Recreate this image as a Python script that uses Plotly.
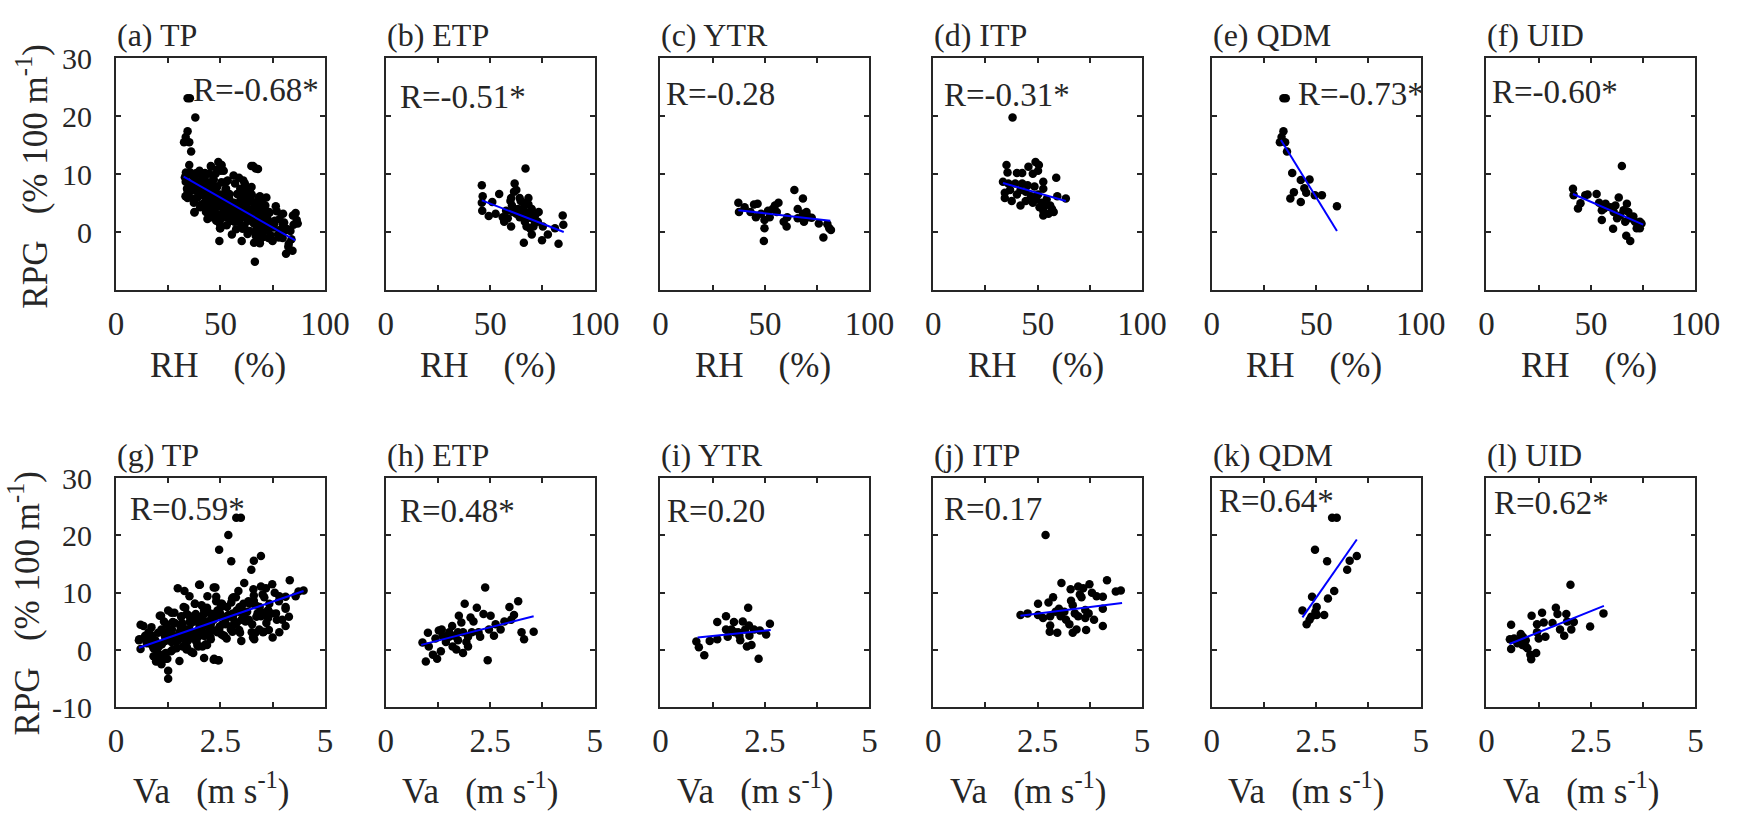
import plotly.graph_objects as go

W, H = 1743, 825
FONT = "Liberation Serif"
INK = "#262626"

# ── data: RH vs RPG (top row) ────────────────────────────────────────────────
etp_rh = [46.0, 46.4, 46.0, 46.2, 49.3, 51.0, 54.3, 52.6, 56.0, 56.7,
          57.6, 60.0, 60.4, 60.0, 61.7, 62.5, 64.1, 64.6, 66.9, 65.8,
          66.6, 68.3, 69.0, 69.9, 69.9, 66.1, 70.7, 73.2, 72.8, 75.2,
          74.8, 77.6, 81.0, 82.7, 84.7, 85.0, 63.3, 65.0, 66.6, 67.4,
          69.0, 71.5, 64.1, 62.5, 58.4, 60.9, 68.3, 69.9, 71.5, 65.8,
          59.7, 61.4]
etp_rh_rpg = [8.1, 6.2, 5.1, 3.7, 2.8, 5.2, 6.6, 3.2, 2.6, 1.8,
              3.7, 5.9, 4.6, 1.0, 8.4, 7.3, 5.9, 5.4, 11.0, 4.0,
              2.9, 4.8, 3.5, 2.4, -0.4, -1.8, 1.0, 3.5, 1.8, 1.0,
              -1.4, -0.4, 0.7, -2.0, 2.9, 1.3, 4.0, 3.2, 1.8, 1.0,
              0.7, 2.9, 2.6, 3.2, 2.4, 3.5, 5.9, 4.0, 1.8, 5.1,
              5.4, 7.0]

ytr_rh = [37.3, 37.6, 40.3, 44.8, 46.5, 45.7, 48.2, 49.8, 49.8, 49.5,
          52.3, 53.7, 54.8, 56.5, 55.7, 59.0, 60.4, 60.7, 64.1, 65.7,
          68.2, 68.2, 68.7, 69.9, 72.4, 75.8, 78.0, 79.9, 80.8, 81.6,
          43.1, 51.5, 65.7, 71.0]
ytr_rh_rpg = [5.1, 3.5, 4.3, 4.8, 4.9, 2.6, 3.2, 2.1, 0.7, -1.5,
              2.6, 4.0, 4.6, 5.1, 3.5, 1.8, 1.0, 2.6, 7.3, 4.0,
              5.8, 3.2, 1.8, 3.5, 2.5, 1.5, -0.9, 1.4, 0.7, 0.4,
              3.5, 3.7, 2.4, 2.6]

itp_rh = [38.0, 35.1, 35.6, 40.1, 42.6, 45.6, 49.0, 50.6, 50.2, 47.7,
          52.7, 52.7, 58.9, 33.4, 36.0, 39.3, 42.6, 45.2, 48.5, 34.3,
          34.3, 37.6, 41.8, 40.1, 44.3, 46.8, 49.3, 51.8, 52.7, 52.7,
          55.2, 56.9, 57.7, 56.0, 54.3, 59.4, 63.5, 44.3, 47.7, 50.2,
          36.8, 41.8, 53.5, 50.9]
itp_rh_rpg = [19.8, 11.6, 10.3, 10.2, 10.2, 11.3, 12.1, 11.6, 10.6, 10.1,
              8.7, 7.5, 9.4, 8.7, 8.4, 8.4, 8.4, 8.1, 7.9, 6.8,
              5.9, 5.4, 4.6, 6.5, 7.0, 6.2, 5.7, 5.1, 3.7, 2.9,
              3.2, 4.0, 3.5, 4.6, 5.7, 6.2, 5.8, 5.4, 5.1, 6.5,
              7.3, 7.3, 4.6, 4.3]

qdm_rh = [34.3, 35.4, 34.3, 33.4, 32.6, 35.1, 36.0, 38.5, 42.6, 46.8,
          44.3, 45.2, 39.3, 37.6, 42.6, 49.3, 52.7, 59.9]
qdm_rh_rpg = [23.1, 23.1, 17.4, 16.4, 15.5, 15.5, 13.9, 10.2, 9.0, 9.1,
              7.6, 6.8, 6.9, 5.8, 5.2, 6.4, 6.4, 4.5]

uid_rh = [41.4, 41.7, 43.8, 45.0, 47.3, 48.4, 52.7, 53.9, 55.2, 55.2,
          57.0, 56.3, 61.7, 63.3, 64.8, 62.5, 60.9, 60.6, 65.6, 67.2,
          67.9, 68.8, 70.3, 71.1, 71.9, 73.4, 74.2, 73.4, 66.9, 68.8,
          64.0, 59.4, 66.4]
uid_rh_rpg = [7.5, 6.4, 4.1, 5.0, 6.4, 6.5, 6.6, 5.1, 3.8, 2.1,
              4.9, 4.1, 4.6, 6.0, 11.4, 2.4, 3.5, 0.6, 3.8, 4.9,
              3.5, 2.4, 2.7, 1.8, 0.7, 1.8, 1.5, 0.7, -0.6, -1.5,
              2.9, 4.3, 1.8]

# TP stations outside the five sub-regions
other_rh = [33.5, 33.0, 34.0, 33.3, 35.0, 36.5, 37.6, 38.5, 39.0, 40.0,
            40.5, 41.0, 42.0, 43.0, 43.8, 44.5, 45.4, 45.5, 46.5, 47.5,
            48.0, 48.5, 49.5, 50.0, 50.5, 51.6, 52.0, 53.0, 53.5, 54.5,
            55.5, 56.3, 57.0, 57.5, 58.0, 59.0, 60.2, 61.0, 61.5, 62.0,
            63.0, 64.0, 64.9, 65.7, 66.5, 67.0, 68.0, 68.9, 68.9, 70.0,
            70.5, 71.5, 72.5, 73.6, 74.0, 75.0, 76.0, 77.0, 78.3, 79.0,
            79.8, 80.5, 81.4, 82.5, 83.5, 84.0, 86.0, 86.5, 87.0, 84.5,
            36.0, 38.0, 41.5, 43.5, 45.0, 47.0, 48.0, 49.0, 51.0, 52.5,
            54.0, 55.0, 56.0, 58.5, 59.5, 60.5, 62.5, 63.5, 65.0, 66.0,
            67.5, 69.5, 71.0, 72.0, 73.0, 75.5, 76.5, 78.0, 80.0, 82.0]
other_rh_rpg = [10.3, 9.5, 7.5, 6.2, 6.8, 9.8, 3.4, 7.8, 6.0, 10.6,
                8.9, 4.8, 9.6, 6.2, 2.3, 10.1, 11.4, 4.2, 9.0, 3.1,
                7.6, 10.8, 1.6, 0.7, 8.6, 10.6, 5.9, 1.2, 8.9, 3.9,
                -0.4, 9.8, 8.4, 0.5, 6.6, 2.2, -1.5, 8.9, 1.1, 6.0,
                -0.3, 0.2, 7.8, 11.4, -5.1, 0.2, 10.9, 6.2, -1.9, 5.5,
                -0.8, 4.6, 0.3, 3.4, -0.5, -1.5, 2.0, 3.6, 2.3, 0.5,
                -1.0, 1.7, -3.7, -2.5, 0.2, -1.2, 3.3, 2.1, 1.5, -3.2,
                8.0, 9.0, 7.0, 8.3, 6.8, 5.5, 2.0, 4.5, 3.0, 7.4,
                6.0, 2.0, 4.5, 5.0, 7.5, 3.0, 4.8, 2.0, 6.5, 1.5,
                5.0, 3.0, 1.5, 6.0, -1.0, 0.8, 4.5, -0.5, 3.2, 0.5]

# ── data: Va vs RPG (bottom row) ─────────────────────────────────────────────
etp_va = [0.88, 0.96, 1.01, 1.03, 1.13, 1.23, 1.27, 1.34, 1.36, 1.32,
          1.44, 1.52, 1.59, 1.64, 1.73, 1.69, 1.75, 1.81, 1.85, 1.85,
          1.89, 1.93, 1.97, 2.03, 2.10, 2.18, 2.22, 2.26, 2.34, 2.38,
          2.44, 2.51, 2.47, 2.59, 2.63, 2.75, 2.84, 2.96, 3.00, 3.07,
          3.17, 3.25, 3.31, 3.54, 1.60, 1.73, 1.52, 1.19, 1.97, 2.06]
etp_va_rpg = [1.3, -2.0, 3.0, 0.6, -0.8, -1.5, 3.4, 3.6, 2.5, -0.2,
              1.4, 3.1, 4.2, 2.5, 1.7, 0.1, 6.0, 4.8, 3.1, -0.5,
              8.1, 1.4, 0.6, 5.7, 5.0, 7.4, 3.1, 2.3, 6.3, 10.9,
              -1.8, 6.0, 3.6, 2.5, 4.5, 3.6, 5.0, 7.5, 5.3, 6.1,
              8.5, 3.1, 1.9, 3.2, 0.6, 3.1, 2.3, 2.0, 2.3, 3.1]

ytr_va = [0.86, 0.92, 1.05, 1.18, 1.36, 1.36, 1.57, 1.57, 1.61, 1.76,
          1.78, 1.89, 1.91, 1.97, 2.03, 2.10, 2.12, 2.13, 2.07, 2.18,
          2.24, 2.35, 2.38, 2.53, 2.62, 1.70, 1.86]
ytr_va_rpg = [1.5, 0.5, -0.9, 1.6, 1.9, 4.9, 5.9, 3.6, 2.3, 4.9,
              3.1, 2.5, 1.7, 5.0, 3.6, 7.4, 4.3, 2.5, 0.6, 0.9,
              3.6, -1.5, 3.4, 2.7, 4.6, 3.6, 3.1]

itp_va = [2.69, 2.09, 2.26, 2.51, 2.51, 2.63, 2.76, 2.87, 3.07, 2.80,
          2.80, 2.79, 2.97, 3.01, 3.14, 3.29, 3.30, 3.34, 3.26, 3.34,
          3.43, 3.47, 3.51, 3.55, 3.59, 3.64, 3.66, 3.74, 3.80, 3.85,
          3.91, 4.06, 4.06, 4.06, 4.16, 4.37, 4.49, 3.05, 3.18, 3.47,
          3.64, 2.93, 3.39, 3.72]
itp_va_rpg = [20.1, 6.1, 6.4, 8.1, 6.1, 5.6, 8.3, 9.2, 11.7, 5.9,
              4.3, 3.2, 3.0, 7.2, 6.7, 10.6, 8.6, 7.8, 4.5, 3.0,
              3.6, 11.1, 9.7, 9.2, 10.8, 7.0, 3.5, 11.5, 10.0, 5.3,
              9.4, 9.3, 7.2, 4.2, 12.2, 10.2, 10.4, 5.9, 5.3, 5.9,
              5.6, 6.7, 6.4, 6.4]

qdm_va = [2.88, 2.99, 2.47, 2.76, 3.47, 3.30, 3.24, 2.93, 2.78, 2.40,
          2.17, 2.51, 2.48, 2.51, 2.69, 2.38, 2.34, 2.27]
qdm_va_rpg = [23.1, 23.1, 17.5, 15.5, 16.4, 15.6, 14.0, 10.3, 9.0, 9.3,
              6.9, 7.5, 6.7, 6.1, 6.1, 5.8, 5.3, 4.5]

uid_va = [0.59, 0.56, 0.59, 0.66, 0.74, 0.82, 0.87, 0.94, 0.94, 0.98,
          1.05, 1.08, 1.07, 1.19, 1.21, 1.25, 1.21, 1.33, 1.37, 1.41,
          1.58, 1.66, 1.70, 1.76, 1.86, 1.91, 1.93, 2.01, 2.03, 2.09,
          2.48, 2.80, 0.78, 0.86]
uid_va_rpg = [4.4, 1.9, 0.2, 2.0, 1.2, 2.8, 2.3, 1.7, 0.6, 0.3,
              -0.8, 6.0, -1.6, -0.5, 4.5, 2.0, 3.1, 6.5, 4.8, 2.3,
              4.7, 7.4, 6.3, 3.6, 2.5, 6.3, 5.0, 11.4, 3.6, 4.9,
              4.1, 6.4, 1.7, 0.9]

other_va = [0.66, 0.55, 0.78, 0.90, 1.05, 1.25, 0.90, 0.98, 1.09, 1.25,
            1.25, 1.52, 1.48, 1.64, 1.76, 1.89, 1.99, 2.11, 2.34, 2.46,
            2.19, 2.34, 2.54, 2.81, 3.00, 3.28, 3.75, 3.52, 3.91, 4.06,
            3.98, 4.30, 3.83, 3.60, 3.36, 3.20, 2.89, 2.74, 2.58, 2.43,
            2.27, 2.11, 1.95, 1.80, 1.68, 1.56, 1.45, 1.33, 1.17, 1.09,
            1.41, 1.56, 1.80, 1.95, 2.11, 2.27, 2.43, 2.66, 2.89, 3.05,
            3.44, 3.67, 4.14,
            0.70, 0.85, 0.95, 1.00, 1.10, 1.15, 1.20, 1.30, 1.35, 1.40,
            1.50, 1.55, 1.62, 1.70, 1.75, 1.85, 1.92, 2.00, 2.05, 2.15,
            2.20, 2.30, 2.40, 2.55, 2.65, 2.95, 3.10, 3.30, 3.55, 3.90]
other_va_rpg = [4.2, 1.7, 3.1, 0.3, 6.0, 6.9, -1.1, -1.9, -2.5, -3.6,
                -5.0, -1.9, 10.8, 10.3, 9.4, 8.1, 11.4, -1.4, -1.7, -1.8,
                9.4, 10.9, 8.1, 9.2, 1.6, 2.2, 2.2, 3.1, 3.1, 7.5,
                5.3, 9.4, 6.4, 4.7, 5.8, 8.1, 4.7, 5.8, 2.5, 3.1,
                1.9, 2.5, 0.8, -0.3, 1.4, 2.5, 0.3, 1.4, 2.5, 3.6,
                4.7, 5.8, 4.7, 5.8, 6.9, 5.3, 6.9, 7.5, 6.9, 8.1,
                7.5, 8.1, 5.8,
                2.5, 4.0, 1.5, -0.5, 1.0, 5.0, -1.5, 3.0, 0.0, 6.5,
                1.8, 4.0, 7.5, 0.5, 3.0, 5.5, 2.0, 4.0, 7.8, 1.0,
                5.0, 3.5, 8.5, 4.5, 2.0, 3.5, 5.0, 9.5, 6.5, 8.5]

# TP = all stations
tp_rh = etp_rh + ytr_rh + itp_rh + qdm_rh + uid_rh + other_rh
tp_rh_rpg = etp_rh_rpg + ytr_rh_rpg + itp_rh_rpg + qdm_rh_rpg + uid_rh_rpg + other_rh_rpg
tp_va = etp_va + ytr_va + itp_va + qdm_va + uid_va + other_va
tp_va_rpg = etp_va_rpg + ytr_va_rpg + itp_va_rpg + qdm_va_rpg + uid_va_rpg + other_va_rpg

# fitted regression lines (end points)
fit_rh_x = [[32.4, 85.8], [46.0, 85.2], [37.3, 81.3], [33.4, 63.5], [33.1, 59.9], [41.4, 75.0]]
fit_rh_y = [[9.6, -1.4], [5.5, 0.05], [3.8, 2.0], [8.5, 5.4], [15.9, 0.2], [6.6, 1.3]]
fit_va_x = [[0.55, 4.49], [0.85, 3.54], [0.89, 2.64], [2.09, 4.52], [2.17, 3.47], [0.55, 2.81]]
fit_va_y = [[0.4, 10.3], [0.9, 5.9], [2.2, 3.5], [6.0, 8.2], [5.7, 19.3], [1.05, 7.7]]

regions = ["TP", "ETP", "YTR", "ITP", "QDM", "UID"]
letters_top = ["a", "b", "c", "d", "e", "f"]
letters_bot = ["g", "h", "i", "j", "k", "l"]
r_rh = ["R=-0.68*", "R=-0.51*", "R=-0.28", "R=-0.31*", "R=-0.73*", "R=-0.60*"]
r_va = ["R=0.59*", "R=0.48*", "R=0.20", "R=0.17", "R=0.64*", "R=0.62*"]
r_rh_pos = [(36, 24.5), (6, 23.3), (1.5, 23.8), (4, 23.6), (40.4, 23.9), (1.5, 24.1)]
r_va_pos = [(0.28, 24.7), (0.29, 24.2), (0.1, 24.2), (0.21, 24.7), (0.12, 26.0), (0.14, 25.7)]

rh_sets = [(tp_rh, tp_rh_rpg), (etp_rh, etp_rh_rpg), (ytr_rh, ytr_rh_rpg),
           (itp_rh, itp_rh_rpg), (qdm_rh, qdm_rh_rpg), (uid_rh, uid_rh_rpg)]
va_sets = [(tp_va, tp_va_rpg), (etp_va, etp_va_rpg), (ytr_va, ytr_va_rpg),
           (itp_va, itp_va_rpg), (qdm_va, qdm_va_rpg), (uid_va, uid_va_rpg)]

# ── layout geometry (pixels) ─────────────────────────────────────────────────
col_left = [110, 385, 665, 943, 1227, 1507]
PW = 213
rows_px = [(43, 285), (481, 720)]

fig = go.Figure()
layout = {}
annotations = []

xtick_font = dict(family=FONT, size=33, color=INK)
ytick_font = dict(family=FONT, size=30, color=INK)

for r in range(2):
    top, bot = rows_px[r]
    for c in range(6):
        n = r * 6 + c + 1
        sx = "" if n == 1 else str(n)
        xa, ya = "x" + sx, "y" + sx
        left = col_left[c]

        if r == 0:
            xs, ys = rh_sets[c]
            fx, fy = fit_rh_x[c], fit_rh_y[c]
            xrange = [0, 100]
            xtv, xminor = [0, 50, 100], [25, 75]
            ytv = [0, 10, 20, 30]
            label = f"({letters_top[c]}) {regions[c]}"
            rtxt, rpos = r_rh[c], r_rh_pos[c]
        else:
            xs, ys = va_sets[c]
            fx, fy = fit_va_x[c], fit_va_y[c]
            xrange = [0, 5]
            xtv, xminor = [0, 2.5, 5], [1.25, 3.75]
            ytv = [-10, 0, 10, 20, 30]
            label = f"({letters_bot[c]}) {regions[c]}"
            rtxt, rpos = r_va[c], r_va_pos[c]

        fig.add_trace(go.Scatter(
            x=xs, y=ys, mode="markers", xaxis=xa, yaxis=ya,
            marker=dict(size=8.5, color="black"), showlegend=False,
            hoverinfo="skip"))
        fig.add_trace(go.Scatter(
            x=fx, y=fy, mode="lines", xaxis=xa, yaxis=ya,
            line=dict(color="#0000FF", width=2), showlegend=False,
            hoverinfo="skip"))

        layout["xaxis" + sx] = dict(
            domain=[left / W, (left + PW) / W], anchor=ya, range=xrange,
            tickmode="array", tickvals=xtv, ticktext=[str(v) for v in xtv],
            ticks="inside", ticklen=5, tickwidth=1.5, tickcolor=INK,
            minor=dict(tickmode="array", tickvals=xminor, ticks="inside",
                       ticklen=5, tickwidth=1.5, tickcolor=INK, showgrid=False),
            showline=True, linecolor=INK, linewidth=1.8, mirror="ticks",
            showgrid=False, zeroline=False, tickfont=xtick_font,
            ticklabelstandoff=3)
        layout["yaxis" + sx] = dict(
            domain=[1 - bot / H, 1 - top / H], anchor=xa, range=[-10, 30],
            tickmode="array", tickvals=ytv, ticktext=[str(v) for v in ytv],
            ticks="inside", ticklen=5, tickwidth=1.5, tickcolor=INK,
            showline=True, linecolor=INK, linewidth=1.8, mirror="ticks",
            showgrid=False, zeroline=False, tickfont=ytick_font,
            showticklabels=(c == 0), ticklabelstandoff=16)

        # panel label
        annotations.append(dict(
            text=label, x=(left - 1) / W, y=1 - (top - 24) / H, xref="paper",
            yref="paper", xanchor="left", yanchor="middle", showarrow=False,
            font=dict(family=FONT, size=32, color=INK)))
        # correlation coefficient
        annotations.append(dict(
            text=rtxt, x=rpos[0], y=rpos[1], xref=xa, yref=ya,
            xanchor="left", yanchor="middle", showarrow=False,
            font=dict(family=FONT, size=33, color=INK)))
        # x-axis title
        if r == 0:
            xt, xoff, ypx = "RH\u00a0\u00a0\u00a0\u00a0(%)", 33, 364
        else:
            xt, xoff, ypx = "Va\u00a0\u00a0\u00a0(m\u00a0s<sup>-1</sup>)", 15, 805
        annotations.append(dict(
            text=xt, x=(left + xoff) / W, y=1 - ypx / H, xref="paper",
            yref="paper", xanchor="left", yanchor="middle", showarrow=False,
            font=dict(family=FONT, size=35, color=INK)))

# y-axis titles
for xpx, ypx in [(25, 167), (17, 612)]:
    annotations.append(dict(
        text="RPG\u00a0\u00a0\u00a0(%\u00a0100\u00a0m<sup>-1</sup>)",
        x=xpx / W, y=1 - ypx / H, xref="paper", yref="paper",
        xanchor="center", yanchor="middle", textangle=-90, showarrow=False,
        font=dict(family=FONT, size=35, color=INK)))

fig.update_layout(
    width=W, height=H,
    margin=dict(l=0, r=0, t=0, b=0),
    paper_bgcolor="white", plot_bgcolor="white",
    annotations=annotations,
    **layout)

# pin the figure to the page corner (no default body margin)
pin = ("document.body.style.margin='0';"
       "var g=document.getElementsByClassName('plotly-graph-div')[0];"
       "g.style.position='absolute';g.style.left='0px';g.style.top='0px';")
fig.write_html("out.html", post_script=pin, config={"displayModeBar": False})
